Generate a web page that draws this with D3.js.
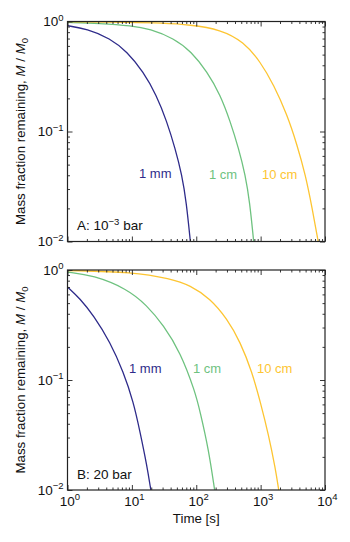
<!DOCTYPE html>
<html>
<head>
<meta charset="utf-8">
<script src="https://cdn.jsdelivr.net/npm/d3@7"></script>
<style>
  body { margin: 0; background: #fff; }
  text { font-family: "Liberation Sans", Arial, sans-serif; }
</style>
</head>
<body>
<script>
// DATA
var sizes  = ["1 mm", "1 cm", "10 cm"];
var colors = ["#2e2b8a", "#6ec27f", "#fdc532"];

// panel A: 10^-3 bar
var tA_1mm  = [1, 2, 4.6, 8.4, 15, 24, 35, 47, 60, 70, 81];
var mA_1mm  = [0.916, 0.855, 0.703, 0.531, 0.350, 0.215, 0.123, 0.0703, 0.0402, 0.0230, 0.010];
var tA_1cm  = [1, 3.2, 10, 19, 45, 84, 147, 237, 338, 455, 579, 676, 780];
var mA_1cm  = [0.983, 0.963, 0.916, 0.855, 0.703, 0.531, 0.350, 0.215, 0.123, 0.0703, 0.0402, 0.0230, 0.010];
var tA_10cm = [1, 10, 27.5, 81, 240, 545, 991, 1600, 2580, 3690, 4970, 6320, 7830];
var mA_10cm = [0.996, 0.983, 0.969, 0.935, 0.845, 0.655, 0.431, 0.265, 0.142, 0.0754, 0.0403, 0.0201, 0.010];

// panel B: 20 bar
var tB_1mm  = [1, 1.57, 2.52, 4.59, 7.39, 10.6, 13.4, 17.1, 19.7];
var mB_1mm  = [0.700, 0.548, 0.388, 0.2215, 0.118, 0.063, 0.0337, 0.0168, 0.010];
var tB_1cm  = [1, 2.52, 8.35, 17.1, 31, 56.4, 96.5, 115, 155, 193];
var mB_1cm  = [0.959, 0.895, 0.676, 0.478, 0.314, 0.180, 0.0778, 0.0512, 0.0237, 0.010];
var tB_10cm = [1, 10.6, 39.4, 80.7, 165, 300, 484, 736, 991, 1334, 1698, 1910];
var mB_10cm = [0.99, 0.959, 0.834, 0.726, 0.548, 0.361, 0.2215, 0.118, 0.063, 0.0314, 0.0156, 0.010];

// ticks
var xMajor = [1, 10, 100, 1000, 10000];
var xMajorExp = ["0", "1", "2", "3", "4"];
var yMajor = [1, 0.1, 0.01];
var yMajorExp = ["0", "\u22121", "\u22122"];

// panel setup
var panels = [
    {series: [[tA_1mm, mA_1mm], [tA_1cm, mA_1cm], [tA_10cm, mA_10cm]],
     top: 21.5, bottom: 241.5,
     labelPos: [[139, 178], [209, 179], [262, 179]],
     title: ["A: 10", "\u22123", " bar"], titleY: 230},
    {series: [[tB_1mm, mB_1mm], [tB_1cm, mB_1cm], [tB_10cm, mB_10cm]],
     top: 270, bottom: 490,
     labelPos: [[129, 373], [193, 373], [257, 373]],
     title: ["B: 20 bar"], titleY: 479}
];

var w = 350, h = 542;
var left = 67.5, right = 325;

var x = d3.scaleLog().domain([1, 1e4]).range([left, right]);

// minor ticks 2..9 in each decade
function minors(lo, hi) {
    var out = [];
    for (var e = lo; e < hi; e++) {
        for (var k = 2; k < 10; k++) out.push(k * Math.pow(10, e));
    }
    return out;
}
var xMinor = minors(0, 4);
var yMinor = minors(-2, 0);

var svg = d3.select("body")
    .append("svg")
    .attr("width", w)
    .attr("height", h);

panels.forEach(function(p, pi) {
    var y = d3.scaleLog().domain([0.01, 1]).range([p.bottom, p.top]);
    var g = svg.append("g");

    // clip to the plot box
    svg.append("clipPath")
       .attr("id", "clip" + pi)
       .append("rect")
       .attr("x", left).attr("y", p.top)
       .attr("width", right - left).attr("height", p.bottom - p.top);

    var line = d3.line()
        .x(function(d) { return x(d[0]); })
        .y(function(d) { return y(d[1]); })
        .curve(d3.curveBasis);

    // curves
    p.series.forEach(function(s, i) {
        var pts = s[0].map(function(t, j) { return [t, s[1][j]]; });
        g.append("path")
         .attr("d", line(pts))
         .attr("clip-path", "url(#clip" + pi + ")")
         .attr("fill", "none")
         .attr("stroke", colors[i])
         .attr("stroke-width", 1.3);
    });

    // inward ticks on all four sides
    function ticks(axis, vals, size, tr) {
        var a = g.append("g")
         .attr("transform", tr)
         .call(axis.tickValues(vals).tickSize(size).tickFormat(""));
        a.select(".domain").remove();
        a.selectAll("line").attr("stroke", "#222").attr("stroke-width", 0.9);
    }
    ticks(d3.axisBottom(x), xMajor, -5, "translate(0," + p.bottom + ")");
    ticks(d3.axisBottom(x), xMinor, -2.5, "translate(0," + p.bottom + ")");
    ticks(d3.axisTop(x), xMajor, -5, "translate(0," + p.top + ")");
    ticks(d3.axisTop(x), xMinor, -2.5, "translate(0," + p.top + ")");
    ticks(d3.axisLeft(y), yMajor, -5, "translate(" + left + ",0)");
    ticks(d3.axisLeft(y), yMinor, -2.5, "translate(" + left + ",0)");
    ticks(d3.axisRight(y), yMajor, -5, "translate(" + right + ",0)");
    ticks(d3.axisRight(y), yMinor, -2.5, "translate(" + right + ",0)");

    // frame
    g.append("rect")
     .attr("x", left).attr("y", p.top)
     .attr("width", right - left).attr("height", p.bottom - p.top)
     .attr("fill", "none")
     .attr("stroke", "#222")
     .attr("stroke-width", 1.2);

    // y tick labels
    yMajor.forEach(function(v, i) {
        var t = g.append("text")
         .attr("x", left - 4)
         .attr("y", y(v) + 4.5)
         .attr("text-anchor", "end")
         .attr("font-size", 13.5)
         .attr("fill", "#111");
        t.append("tspan").text("10");
        t.append("tspan").attr("dy", -5.5).attr("font-size", 9.5).text(yMajorExp[i]);
    });

    // series labels
    sizes.forEach(function(s, i) {
        g.append("text")
         .attr("x", p.labelPos[i][0])
         .attr("y", p.labelPos[i][1])
         .attr("font-size", 13)
         .attr("fill", colors[i])
         .text(s);
    });

    // panel title
    var tt = g.append("text")
     .attr("x", 77)
     .attr("y", p.titleY)
     .attr("font-size", 13.5)
     .attr("fill", "#111");
    tt.append("tspan").text(p.title[0]);
    if (p.title.length > 1) {
        tt.append("tspan").attr("dy", -5.5).attr("font-size", 9.5).text(p.title[1]);
        tt.append("tspan").attr("dy", 5.5).text(p.title[2]);
    }

    // y axis title
    var cy = (p.top + p.bottom) / 2;
    var yl = g.append("text")
     .attr("transform", "translate(25," + cy + ") rotate(-90)")
     .attr("text-anchor", "middle")
     .attr("font-size", 13.3)
     .attr("fill", "#111");
    yl.append("tspan").text("Mass fraction remaining, ");
    yl.append("tspan").attr("font-style", "italic").text("M");
    yl.append("tspan").text(" / ");
    yl.append("tspan").attr("font-style", "italic").text("M");
    yl.append("tspan").attr("dy", 3).attr("font-size", 9.5).text("0");
});

// x tick labels (bottom panel only)
xMajor.forEach(function(v, i) {
    var t = svg.append("text")
     .attr("x", x(v) + 2.5)
     .attr("y", 505.5)
     .attr("text-anchor", "middle")
     .attr("font-size", 13.5)
     .attr("fill", "#111");
    t.append("tspan").text("10");
    t.append("tspan").attr("dy", -5.5).attr("font-size", 9.5).text(xMajorExp[i]);
});

svg.append("text")
   .attr("x", (left + right) / 2)
   .attr("y", 523)
   .attr("text-anchor", "middle")
   .attr("font-size", 13.3)
   .attr("fill", "#111")
   .text("Time [s]");
</script>
</body>
</html>
